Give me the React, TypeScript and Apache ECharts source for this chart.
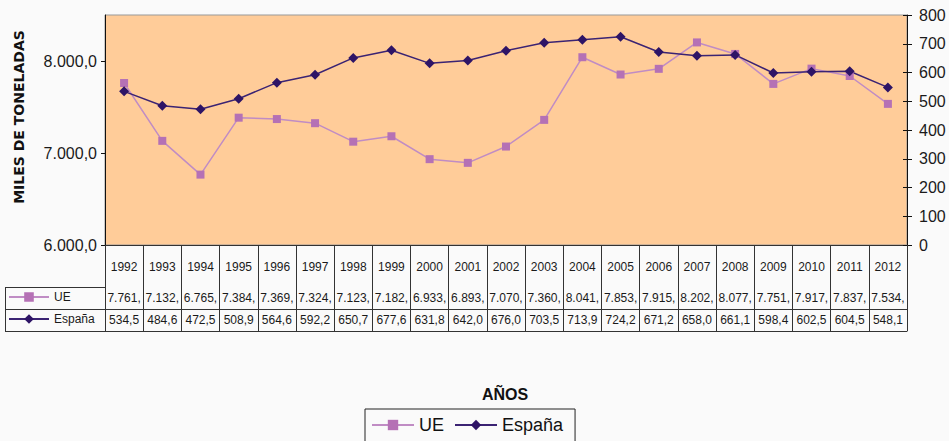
import React, { useEffect, useRef } from "react";
import * as echarts from "echarts";

const years = ["1992","1993","1994","1995","1996","1997","1998","1999","2000","2001","2002","2003","2004","2005","2006","2007","2008","2009","2010","2011","2012"];
const ueValues = [7761, 7132, 6765, 7384, 7369, 7324, 7123, 7182, 6933, 6893, 7070, 7360, 8041, 7853, 7915, 8202, 8077, 7751, 7917, 7837, 7534];
const espanaValues = [534.5, 484.6, 472.5, 508.9, 564.6, 592.2, 650.7, 677.6, 631.8, 642.0, 676.0, 703.5, 713.9, 724.2, 671.2, 658.0, 661.1, 598.4, 602.5, 604.5, 548.1];
const leftTicks = [6000, 7000, 8000];

const fmtThousands = (v: number) => `${Math.floor(v / 1000)}.${String(Math.round(v % 1000)).padStart(3, "0")}`;
const fmtLeft = (v: number) => `${fmtThousands(v)},0`;
const fmtUE = (v: number) => `${fmtThousands(v)},`;
const fmtEs = (v: number) => v.toFixed(1).replace(".", ",");

const UE_LINE = "#C08CC4";
const UE_MARK = "#B571B5";
const ES_LINE = "#3B2373";
const ES_MARK = "#2E1466";
const GRID_LINE = "#333";
const FONT = "Liberation Sans, Arial, sans-serif";

export default function App() {
  const ref = useRef<HTMLDivElement>(null);
  useEffect(() => {
    if (!ref.current) return;
    const chart = echarts.init(ref.current, undefined, { renderer: "svg" });
    const tableAxis = (offset: number, labels: string[] | null, tickUp: number) => ({
      type: "category",
      data: years,
      position: "bottom",
      offset,
      boundaryGap: true,
      axisLine: { show: true, lineStyle: { color: GRID_LINE, width: 1 } },
      axisTick: tickUp > 0
        ? { show: true, inside: true, interval: 0, length: tickUp, lineStyle: { color: GRID_LINE, width: 1 } }
        : { show: false },
      axisLabel: labels
        ? {
            show: true,
            interval: 0,
            margin: 5,
            fontSize: 12,
            fontFamily: FONT,
            color: "#1a1a1a",
            formatter: (_v: string, i: number) => labels[i],
          }
        : { show: false },
      splitLine: { show: false },
    });
    chart.setOption({
      animation: false,
      backgroundColor: "#fafafa",
      title: {
        text: "AÑOS",
        left: 500,
        top: 381,
        textAlign: "center",
        textStyle: { fontSize: 16, fontWeight: "bold", fontFamily: FONT, color: "#111" },
      },
      legend: [
        {
          data: ["UE", "España"],
          left: 365,
          top: 409,
          orient: "horizontal",
          padding: [7, 12, 10, 6],
          borderColor: "#222",
          borderWidth: 1,
          itemWidth: 42,
          itemHeight: 13,
          itemGap: 10,
          textStyle: { fontSize: 18, fontFamily: FONT, color: "#111" },
        },
        {
          data: ["UE", "España"],
          left: 8,
          top: 291,
          orient: "vertical",
          padding: 0,
          itemWidth: 40,
          itemHeight: 12,
          itemGap: 10,
          textStyle: { fontSize: 12, fontFamily: FONT, color: "#1a1a1a" },
        },
      ],
      grid: {
        left: 105,
        right: 42,
        top: 15,
        bottom: 196,
        show: true,
        backgroundColor: "#FFCC99",
        borderColor: "#999",
        borderWidth: 1,
      },
      xAxis: [
        {
          type: "category",
          data: years,
          position: "bottom",
          boundaryGap: true,
          axisLine: { show: true, lineStyle: { color: "#111", width: 1 } },
          axisTick: { show: true, interval: 0, length: 42, lineStyle: { color: GRID_LINE, width: 1 } },
          axisLabel: { show: true, interval: 0, margin: 16, fontSize: 12, fontFamily: FONT, color: "#1a1a1a" },
          splitLine: { show: false },
        },
        tableAxis(42, ueValues.map(fmtUE), 0),
        tableAxis(64, espanaValues.map(fmtEs), 22),
        tableAxis(86, null, 22),
      ],
      yAxis: [
        {
          type: "value",
          position: "left",
          min: 6000,
          max: 8500,
          axisLine: { show: true, lineStyle: { color: "#111", width: 1 } },
          axisTick: { show: true, length: 4, customValues: leftTicks, lineStyle: { color: "#111" } },
          axisLabel: {
            show: true,
            customValues: leftTicks,
            margin: 8,
            fontSize: 16,
            fontFamily: FONT,
            color: "#1a1a1a",
            formatter: (v: number) => fmtLeft(v),
          },
          splitLine: { show: false },
        },
        {
          type: "value",
          position: "right",
          min: 0,
          max: 800,
          interval: 100,
          axisLine: { show: true, lineStyle: { color: "#111", width: 1 } },
          axisTick: { show: true, length: 5, lineStyle: { color: "#111" } },
          axisLabel: { show: true, margin: 12, fontSize: 16, fontFamily: FONT, color: "#1a1a1a" },
          splitLine: { show: false },
        },
        {
          type: "value",
          position: "right",
          min: 0,
          max: 800,
          interval: 100,
          axisLine: { show: false },
          axisTick: { show: true, inside: true, length: 4, lineStyle: { color: "#111" } },
          axisLabel: { show: false },
          splitLine: { show: false },
        },
      ],
      graphic: [
        {
          type: "text",
          x: 19,
          y: 117,
          rotation: Math.PI / 2,
          style: {
            text: "MILES DE TONELADAS",
            fontSize: 14,
            fontWeight: "bold",
            fontFamily: "DejaVu Sans, sans-serif",
            fill: "#111",
            textAlign: "center",
            textVerticalAlign: "middle",
          },
        },
        { type: "line", shape: { x1: 5, y1: 287.5, x2: 105, y2: 287.5 }, style: { stroke: GRID_LINE, lineWidth: 1 } },
        { type: "line", shape: { x1: 5, y1: 309.5, x2: 105, y2: 309.5 }, style: { stroke: GRID_LINE, lineWidth: 1 } },
        { type: "line", shape: { x1: 5, y1: 331.5, x2: 105, y2: 331.5 }, style: { stroke: GRID_LINE, lineWidth: 1 } },
        { type: "line", shape: { x1: 5.5, y1: 287, x2: 5.5, y2: 332 }, style: { stroke: GRID_LINE, lineWidth: 1 } },
      ],
      series: [
        {
          name: "UE",
          type: "line",
          xAxisIndex: 0,
          yAxisIndex: 0,
          data: ueValues,
          symbol: "rect",
          symbolSize: 8,
          lineStyle: { color: UE_LINE, width: 1.5 },
          itemStyle: { color: UE_MARK },
        },
        {
          name: "España",
          type: "line",
          xAxisIndex: 0,
          yAxisIndex: 1,
          data: espanaValues,
          symbol: "diamond",
          symbolSize: 10,
          lineStyle: { color: ES_LINE, width: 1.5 },
          itemStyle: { color: ES_MARK },
        },
      ],
    });
    return () => chart.dispose();
  }, []);
  return <div ref={ref} style={{ position: "fixed", left: 0, top: 0, width: 949, height: 441 }} />;
}
